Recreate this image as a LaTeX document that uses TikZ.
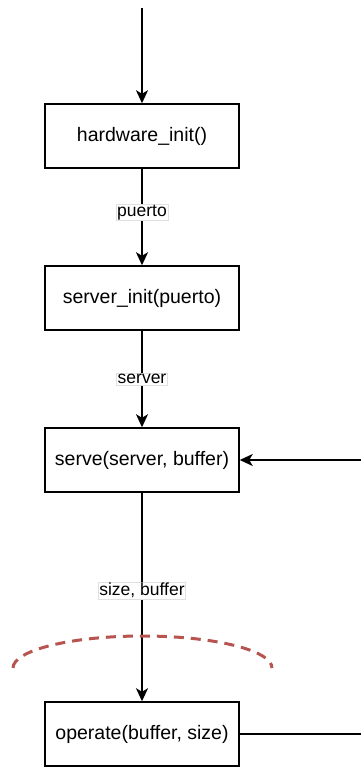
\documentclass[tikz,border=0pt]{standalone}
\usepackage{fontspec}
\setmainfont{Liberation Sans}
\usetikzlibrary{arrows.meta, positioning}

\begin{document}
\begin{tikzpicture}[x=1pt, y=-1pt,
    block/.style={rectangle, draw, line width=1.5pt, minimum width=194pt, minimum height=64pt, text centered, font=\fontsize{19.5}{23}\selectfont},
    lbl/.style={fill=white, draw=black!12, line width=0.4pt, inner sep=1pt, font=\fontsize{17.5}{21}\selectfont},
    flow/.style={line width=1.5pt, -{Stealth[length=13pt, width=12pt, inset=3.5pt]}}
]
\useasboundingbox (0,0) rectangle (361,767);
% Blocks
\node[block] (hwinit) at (142,136) {hardware\_init()};
\node[block] (srvinit) at (142,298) {server\_init(puerto)};
\node[block] (serve) at (142,460) {serve(server, buffer)};
\node[block] (operate) at (142,734) {operate(buffer, size)};
% Free ends
\coordinate (start) at (142,8);
\coordinate (loopin) at (361,460);
\coordinate (loopout) at (361,734);
% Connectors
\draw[flow] (start) -- (hwinit);
\draw[flow] (hwinit) -- (srvinit) node[lbl, pos=0.45] {puerto};
\draw[flow] (srvinit) -- (serve) node[lbl, midway] {server};
\draw[flow] (serve) -- (operate) node[lbl, pos=0.47] {size, buffer};
\draw[flow] (loopin) -- (serve);
\draw[line width=1.5pt] (operate) -- (loopout);
% Dashed arc
\draw[color={rgb,255:red,184;green,84;blue,80}, line width=3pt, dash pattern=on 10pt off 7pt] (13,668) arc[start angle=180, end angle=0, x radius=129.5pt, y radius=32pt];
\end{tikzpicture}
\end{document}
